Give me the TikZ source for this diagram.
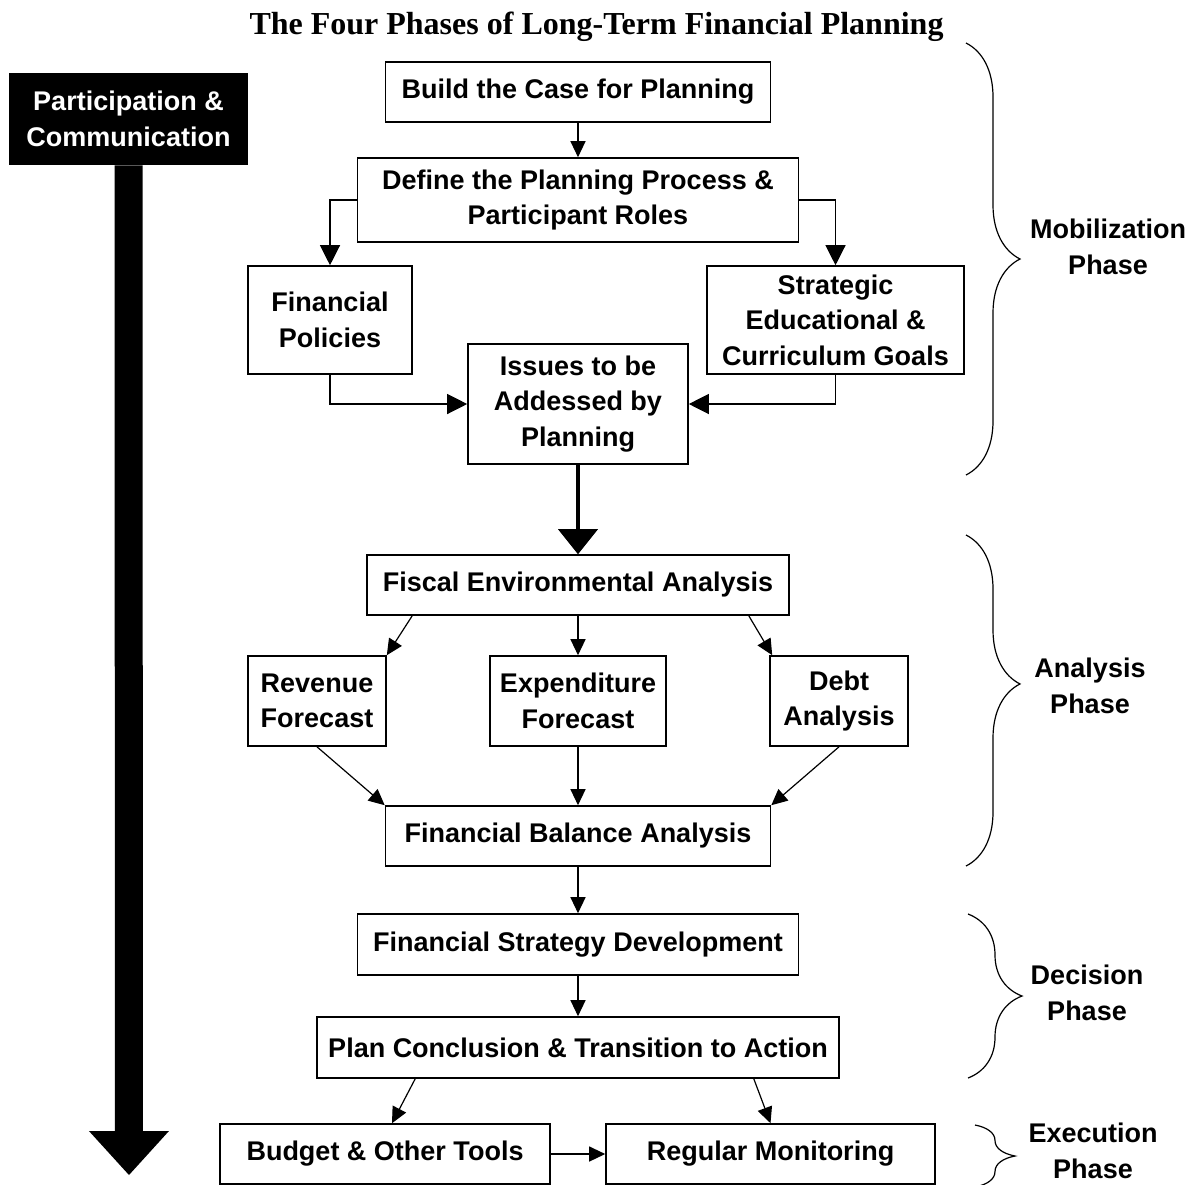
\documentclass[tikz,border=0pt]{standalone}
\usepackage{fontspec}
\setmainfont{Liberation Sans}
\newfontfamily\titlefont{Liberation Serif}
\usetikzlibrary{arrows.meta,decorations.pathreplacing,positioning}

\tikzset{
  phasebox/.style={draw,line width=0.8pt,align=center,inner sep=0pt,
    font=\bfseries\fontsize{13.5}{17.75}\selectfont},
  phaselabel/.style={align=center,inner sep=0pt,font=\bfseries\fontsize{13.5}{17.75}\selectfont},
  flow/.style={line width=0.6pt,-{Triangle[length=8pt,width=7.5pt]}},
  bigflow/.style={line width=0.6pt,-{Triangle[length=10pt,width=10pt]}},
  thickflow/.style={line width=2pt,-{Triangle[length=12.5pt,width=20pt,line width=0pt]}},
  phasebrace/.style={decorate,decoration={brace,amplitude=27pt},line width=0.6pt}
}

\begin{document}
\begin{tikzpicture}[x=0.5pt,y=-0.5pt]
        \useasboundingbox (0,0) rectangle (1193,1184);
        \node(title) at (596.5,27) {\titlefont\bfseries\fontsize{16}{19}\selectfont The Four Phases of Long-Term Financial Planning};

        \node[phasebox,minimum width=192.5pt,minimum height=30pt](case) at (578,92) {Build the Case for Planning};
        \node[phasebox,minimum width=220.5pt,minimum height=42pt](process) at (578,200) {Define the Planning Process \&\\Participant Roles};
        \node[phasebox,minimum width=82pt,minimum height=54pt](policies) at (330,320) {Financial\\Policies};
        \node[phasebox,minimum width=128.5pt,minimum height=54pt](goals) at (835.5,320) {Strategic\\Educational \&\\Curriculum Goals};
        \node[phasebox,minimum width=110pt,minimum height=60pt](issues) at (578,404) {Issues to be\\Addessed by\\Planning};
        \node[phasebox,minimum width=211pt,minimum height=30pt](fiscal) at (578,585) {Fiscal Environmental Analysis};
        \node[phasebox,minimum width=69pt,minimum height=45pt](revenue) at (317,701) {Revenue\\Forecast};
        \node[phasebox,minimum width=88pt,minimum height=45pt](expend) at (578,701) {Expenditure\\Forecast};
        \node[phasebox,minimum width=69pt,minimum height=45pt](debt) at (839,701) {Debt\\Analysis};
        \node[phasebox,minimum width=192.5pt,minimum height=30pt](balance) at (578,836) {Financial Balance Analysis};
        \node[phasebox,minimum width=220.5pt,minimum height=30.5pt](strategy) at (578,944.5) {Financial Strategy Development};
        \node[phasebox,minimum width=261pt,minimum height=30.5pt](conclusion) at (578,1047.5) {Plan Conclusion \& Transition to Action};
        \node[phasebox,minimum width=165pt,minimum height=30pt](budget) at (385,1154) {Budget \& Other Tools};
        \node[phasebox,minimum width=164.5pt,minimum height=30pt](monitor) at (770.5,1154) {Regular Monitoring};

        \node[fill=black,text=white,minimum width=119.5pt,minimum height=46pt,inner sep=0pt,align=center,
          font=\bfseries\fontsize{13.5}{17.75}\selectfont](comm) at (128.5,119) {Participation \&\\Communication};
        \coordinate(commend) at (129,1175);

        \node[phaselabel](mobil) at (1108,247) {Mobilization\\Phase};
        \node[phaselabel](analysis) at (1090,686) {Analysis\\Phase};
        \node[phaselabel](decision) at (1087,993) {Decision\\Phase};
        \node[phaselabel](execution) at (1093,1151) {Execution\\Phase};

        \begin{scope}
          \draw[line width=14pt,-{Triangle[length=22pt,width=40pt,line width=0pt]}] (comm.south) -- (commend);
          \draw[flow] (case) -- (process);
          \draw[bigflow] (process.west) -| (policies.north);
          \draw[bigflow] (process.east) -| (goals.north);
          \draw[bigflow] (policies.south) |- (issues.west);
          \draw[bigflow] (goals.south) |- (issues.east);
          \draw[thickflow] (issues) -- (fiscal);
          \draw[flow] ([xshift=23pt]fiscal.south west) -- (revenue.north east);
          \draw[flow] (fiscal) -- (expend);
          \draw[flow] ([xshift=-20.5pt]fiscal.south east) -- ([xshift=1.5pt]debt.north west);
          \draw[flow] (revenue.south) -- (balance.north west);
          \draw[flow] (expend) -- (balance);
          \draw[flow] (debt.south) -- (balance.north east);
          \draw[flow] (balance) -- (strategy);
          \draw[flow] (strategy) -- (conclusion);
          \draw[flow] ([xshift=49.5pt]conclusion.south west) -- ([xshift=3.5pt]budget.north);
          \draw[flow] ([xshift=-43pt]conclusion.south east) -- (monitor.north);
          \draw[flow] (budget) -- (monitor);
        \end{scope}

        \draw[phasebrace] (966,43) -- (966,475);
        \draw[phasebrace,decoration={aspect=0.45}] (966,535) -- (966,866);
        \draw[phasebrace] (968,914) -- (968,1078);
        \draw[phasebrace,decoration={amplitude=20pt}] (975,1125) -- (975,1187);
      \end{tikzpicture}
\end{document}
